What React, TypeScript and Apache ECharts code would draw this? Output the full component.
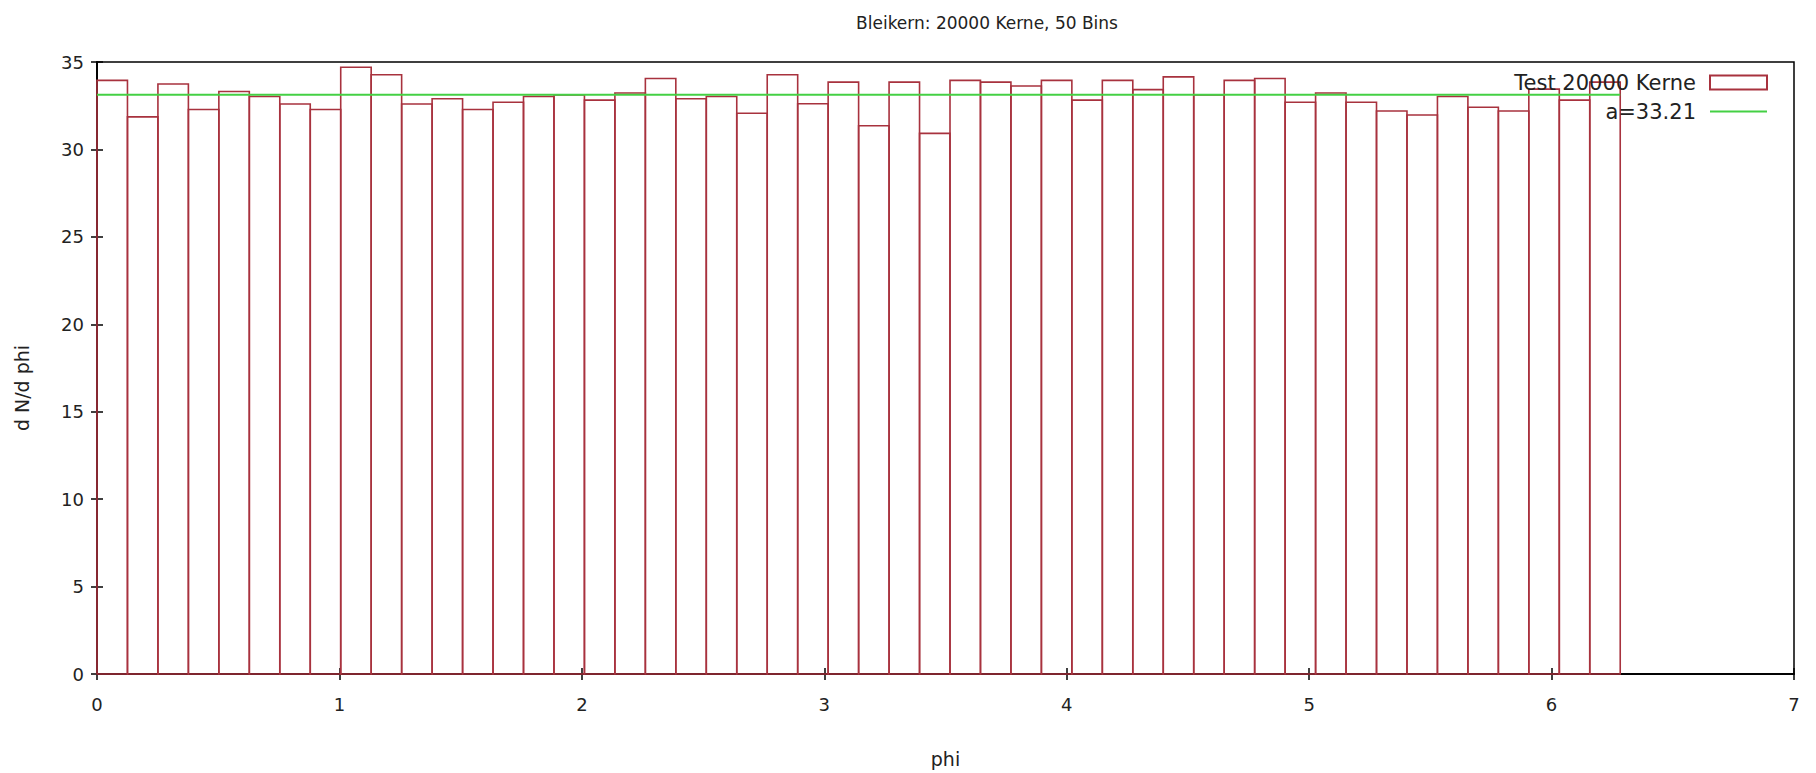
import React, { useEffect, useRef } from "react";
import * as echarts from "echarts";

const TITLE = "Bleikern: 20000 Kerne, 50 Bins";
const SERIES_HIST = "Test 20000 Kerne";
const SERIES_FIT = "a=33.21";
const FIT_VALUE = 33.12;
const BIN_COUNT = 50;
const PHI_MAX = 2 * Math.PI;

// dN/dphi per bin (50 bins over 0..2π)
const binValues: number[] = [
  33.95, 31.86, 33.74, 32.28, 33.31, 33.03, 32.6, 32.28, 34.7, 34.27,
  32.6, 32.9, 32.28, 32.7, 33.03, 33.12, 32.82, 33.23, 34.06, 32.9,
  33.03, 32.07, 34.27, 32.61, 33.85, 31.35, 33.85, 30.92, 33.95, 33.85,
  33.63, 33.95, 32.82, 33.95, 33.42, 34.15, 33.12, 33.95, 34.06, 32.7,
  33.23, 32.7, 32.2, 31.97, 33.03, 32.41, 32.2, 33.45, 32.82, 33.85,
];

const xTicks = { min: 0, max: 7, interval: 1 };
const yTicks = { min: 0, max: 35, interval: 5 };

const RED = "#a8323e";
const GREEN = "#44d044";
const FONT = "DejaVu Sans";

export default function App() {
  const ref = useRef<HTMLDivElement>(null);

  useEffect(() => {
    if (!ref.current) return;
    const chart = echarts.init(ref.current, null, { renderer: "svg" });
    const binWidth = PHI_MAX / BIN_COUNT;
    const histData = binValues.map((v, i) => [i * binWidth, (i + 1) * binWidth, v]);

    const axisLine = { show: true, lineStyle: { color: "#000", width: 1.5 } };
    const tick = { show: true, inside: true, length: 6, lineStyle: { color: "#000", width: 1.5 } };

    chart.setOption({
      animation: false,
      backgroundColor: "#fff",
      title: {
        text: TITLE,
        left: 982,
        textAlign: "center",
        top: 9,
        textStyle: { fontFamily: FONT, fontSize: 17, fontWeight: "normal", color: "#222" },
      },
      legend: {
        orient: "vertical",
        right: 48,
        top: 72,
        align: "right",
        itemWidth: 57,
        itemHeight: 14,
        itemGap: 8,
        padding: 0,
        textStyle: { fontFamily: FONT, fontSize: 21, color: "#222", padding: [0, 9, 0, 0] },
        data: [
          { name: SERIES_HIST, icon: "rect", itemStyle: { color: "#fff", borderColor: RED, borderWidth: 2 } },
          { name: SERIES_FIT, itemStyle: { opacity: 0 } },
        ],
      },
      grid: { left: 97, right: 22, top: 62, bottom: 89, show: true, borderColor: "#000", borderWidth: 1.5 },
      xAxis: [
        {
          type: "value",
          min: xTicks.min,
          max: xTicks.max,
          interval: xTicks.interval,
          position: "bottom",
          axisLine,
          axisTick: tick,
          splitLine: { show: false },
          axisLabel: { fontFamily: FONT, fontSize: 18, color: "#222", margin: 21 },
          name: "phi",
          nameLocation: "middle",
          nameGap: 75,
          nameTextStyle: { fontFamily: FONT, fontSize: 19, color: "#222" },
        },
        {
          type: "value",
          min: xTicks.min,
          max: xTicks.max,
          interval: xTicks.interval,
          position: "top",
          axisLine,
          axisTick: tick,
          splitLine: { show: false },
          axisLabel: { show: false },
        },
      ],
      yAxis: [
        {
          type: "value",
          min: yTicks.min,
          max: yTicks.max,
          interval: yTicks.interval,
          position: "left",
          axisLine,
          axisTick: tick,
          splitLine: { show: false },
          axisLabel: { fontFamily: FONT, fontSize: 18, color: "#222", margin: 13 },
        },
        {
          type: "value",
          min: yTicks.min,
          max: yTicks.max,
          interval: yTicks.interval,
          position: "right",
          axisLine,
          axisTick: tick,
          splitLine: { show: false },
          axisLabel: { show: false },
        },
      ],
      graphic: [
        {
          type: "text",
          x: 22,
          y: 388,
          rotation: Math.PI / 2,
          style: {
            text: "d N/d phi",
            fontFamily: FONT,
            fontSize: 19,
            fill: "#222",
            textAlign: "center",
            textVerticalAlign: "middle",
          },
        },
      ],
      series: [
        {
          name: SERIES_HIST,
          type: "custom",
          xAxisIndex: 0,
          yAxisIndex: 0,
          itemStyle: { color: RED },
          encode: { x: [0, 1], y: 2 },
          data: histData,
          renderItem: (params: any, api: any) => {
            const x0 = api.value(0);
            const x1 = api.value(1);
            const v = api.value(2);
            const pTop = api.coord([x0, v]);
            const pBot = api.coord([x1, 0]);
            return {
              type: "rect",
              shape: { x: pTop[0], y: pTop[1], width: pBot[0] - pTop[0], height: pBot[1] - pTop[1] },
              style: { fill: "none", stroke: RED, lineWidth: 1.6 },
            };
          },
        },
        {
          name: SERIES_FIT,
          type: "line",
          xAxisIndex: 0,
          yAxisIndex: 0,
          symbol: "none",
          showSymbol: false,
          color: GREEN,
          lineStyle: { color: GREEN, width: 2 },
          data: [
            [0, FIT_VALUE],
            [PHI_MAX, FIT_VALUE],
          ],
          z: 3,
        },
      ],
    });
    return () => chart.dispose();
  }, []);

  return (
    <div
      ref={ref}
      style={{ position: "fixed", left: 0, top: 0, width: 1816, height: 773, background: "#fff" }}
    />
  );
}
